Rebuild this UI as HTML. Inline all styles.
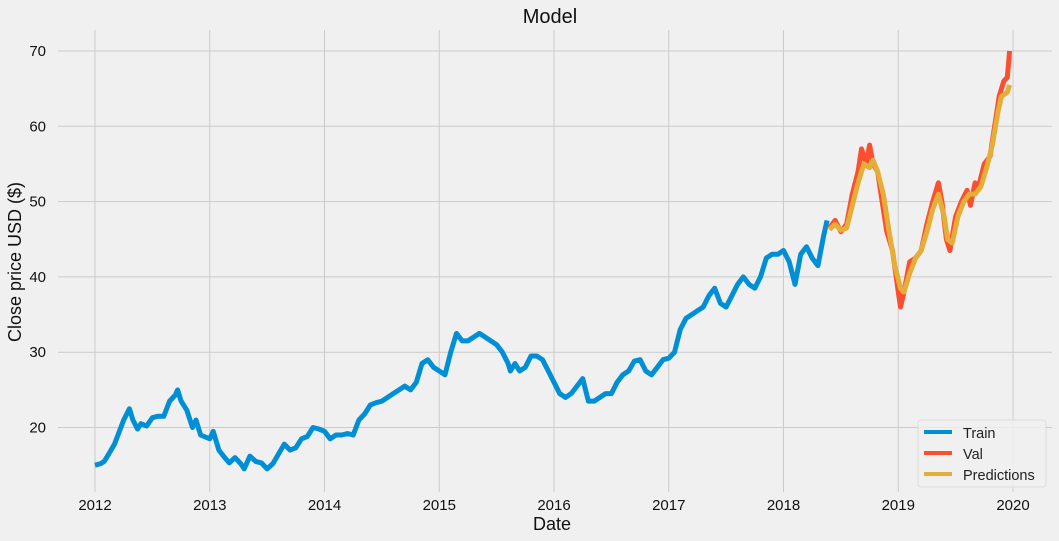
<!DOCTYPE html>
<html><head><meta charset="utf-8"><style>
body{margin:0;background:#f0f0f0;font-family:"Liberation Sans","DejaVu Sans",sans-serif}
svg{display:block}
</style></head><body>
<svg id="chart" width="1059" height="541" xmlns="http://www.w3.org/2000/svg">
<rect width="1059" height="541" fill="#f0f0f0"/>
<g id="grid"></g>
<g id="series"></g>
<g id="ticks"></g>
<text x="550" y="23" font-size="20" text-anchor="middle" fill="#111">Model</text>
<text x="552" y="530" font-size="18" text-anchor="middle" fill="#111">Date</text>
<text transform="translate(21,262) rotate(-90)" font-size="18" text-anchor="middle" fill="#111">Close price USD ($)</text>
<g>
<rect x="918" y="420" width="128" height="67" rx="3" fill="#f0f0f0" fill-opacity="0.85" stroke="#dddddd"/>
<line x1="924" y1="432" x2="952" y2="432" stroke="#008fd5" stroke-width="4"/>
<text x="963" y="438" font-size="14.5" fill="#222">Train</text>
<line x1="924" y1="453" x2="952" y2="453" stroke="#fc4f30" stroke-width="4"/>
<text x="963" y="459" font-size="14.5" fill="#222">Val</text>
<line x1="924" y1="474" x2="952" y2="474" stroke="#e5ae38" stroke-width="4"/>
<text x="963" y="480" font-size="14.5" fill="#222">Predictions</text>
</g>
</svg>
<script>
const xTicks=[2012,2013,2014,2015,2016,2017,2018,2019,2020];
const yTicks=[20,30,40,50,60,70];
const trainDates=[2012.0,2012.05,2012.08,2012.12,2012.17,2012.2,2012.25,2012.3,2012.33,2012.37,2012.4,2012.45,2012.5,2012.55,2012.6,2012.65,2012.7,2012.72,2012.75,2012.8,2012.85,2012.88,2012.92,2013.0,2013.03,2013.08,2013.12,2013.17,2013.22,2013.27,2013.3,2013.35,2013.4,2013.45,2013.5,2013.55,2013.6,2013.65,2013.7,2013.75,2013.8,2013.85,2013.9,2013.95,2014.0,2014.05,2014.1,2014.15,2014.2,2014.25,2014.3,2014.35,2014.4,2014.45,2014.5,2014.55,2014.6,2014.65,2014.7,2014.75,2014.8,2014.85,2014.9,2014.95,2015.0,2015.05,2015.1,2015.15,2015.2,2015.25,2015.3,2015.35,2015.4,2015.45,2015.5,2015.55,2015.6,2015.62,2015.66,2015.7,2015.75,2015.8,2015.85,2015.9,2015.95,2016.0,2016.05,2016.1,2016.15,2016.2,2016.25,2016.3,2016.35,2016.4,2016.45,2016.5,2016.55,2016.6,2016.65,2016.7,2016.75,2016.8,2016.85,2016.9,2016.95,2017.0,2017.05,2017.1,2017.15,2017.2,2017.25,2017.3,2017.35,2017.4,2017.45,2017.5,2017.55,2017.6,2017.65,2017.7,2017.75,2017.8,2017.85,2017.9,2017.95,2018.0,2018.05,2018.1,2018.15,2018.2,2018.25,2018.3,2018.35,2018.38];
const trainValues=[15.0,15.2,15.5,16.5,17.8,19,21,22.5,21,19.8,20.5,20.2,21.3,21.5,21.5,23.5,24.3,25.0,23.5,22.3,20,21,19,18.5,19.5,17.0,16.2,15.3,16,15.2,14.5,16.2,15.5,15.3,14.5,15.2,16.5,17.8,17,17.3,18.5,18.8,20,19.8,19.5,18.5,19,19,19.2,19,21,21.8,23,23.3,23.5,24,24.5,25,25.5,25,26,28.5,29.0,28,27.5,27,30,32.5,31.5,31.5,32,32.5,32,31.5,31,30,28.5,27.5,28.5,27.5,28.0,29.5,29.5,29,27.5,26,24.5,24,24.5,25.5,26.5,23.5,23.5,24,24.5,24.5,26,27,27.5,28.8,29.0,27.5,27,28,29.0,29.2,30,33,34.5,35.0,35.5,36.0,37.5,38.5,36.5,36.0,37.5,39,40,39,38.5,40,42.5,43,43.0,43.5,42,39,43,44,42.5,41.5,45.5,47.5];
const valDates=[2018.4,2018.45,2018.5,2018.55,2018.6,2018.65,2018.68,2018.72,2018.75,2018.78,2018.82,2018.85,2018.9,2018.95,2019.0,2019.02,2019.05,2019.1,2019.15,2019.2,2019.25,2019.3,2019.35,2019.38,2019.42,2019.45,2019.5,2019.55,2019.6,2019.63,2019.67,2019.7,2019.75,2019.8,2019.85,2019.88,2019.92,2019.95,2019.97];
const valValues=[46.5,47.5,46,47,51,54,57,55,57.5,55,54,51,46,43.5,38,36,38,42,42.5,43.5,47,50,52.5,50,45,43.5,48,50,51.5,49.5,52.5,52,55,56,61,64,66,66.5,70];
const predDates=[2018.4,2018.45,2018.5,2018.55,2018.6,2018.65,2018.7,2018.75,2018.78,2018.82,2018.87,2018.92,2018.97,2019.02,2019.05,2019.1,2019.15,2019.2,2019.25,2019.3,2019.35,2019.4,2019.43,2019.47,2019.52,2019.57,2019.62,2019.67,2019.72,2019.77,2019.82,2019.87,2019.9,2019.95,2019.97];
const predValues=[46.3,47,46.2,46.5,49.5,52.5,55,54.5,55.5,54,51,46,41.5,38.5,38,40.5,42.5,43.5,46,49,51,48,45,44.5,48,50,51,51,52,54.5,57.5,62,64,64.5,65.5];

const NS="http://www.w3.org/2000/svg";
const X0=58,X1=1052,Y0=30,Y1=492;
function xs(d){return 95+(d-2012)*114.75;}
function ys(v){return 51+(70-v)*7.53;}
const grid=document.getElementById('grid'),ticks=document.getElementById('ticks'),ser=document.getElementById('series');
xTicks.forEach(t=>{
  const l=document.createElementNS(NS,'line');
  l.setAttribute('x1',xs(t));l.setAttribute('x2',xs(t));l.setAttribute('y1',Y0);l.setAttribute('y2',Y1);
  l.setAttribute('stroke','#cbcbcb');l.setAttribute('stroke-width','1');
  
  
  grid.appendChild(l);
  const tx=document.createElementNS(NS,'text');
  tx.setAttribute('x',xs(t));tx.setAttribute('y',Y1+18);tx.setAttribute('font-size','15');tx.setAttribute('text-anchor','middle');tx.setAttribute('fill','#111');
  tx.textContent=t;
  
  
  ticks.appendChild(tx);
});
yTicks.forEach(t=>{
  const l=document.createElementNS(NS,'line');
  l.setAttribute('x1',X0);l.setAttribute('x2',X1);l.setAttribute('y1',ys(t));l.setAttribute('y2',ys(t));
  l.setAttribute('stroke','#cbcbcb');l.setAttribute('stroke-width','1');
  
  
  grid.appendChild(l);
  const tx=document.createElementNS(NS,'text');
  tx.setAttribute('x',X0-12);tx.setAttribute('y',ys(t)+5);tx.setAttribute('font-size','15');tx.setAttribute('text-anchor','end');tx.setAttribute('fill','#111');
  tx.textContent=t;
  
  
  ticks.appendChild(tx);
});
function line(d,v,color,name){
  const p=document.createElementNS(NS,'polyline');
  p.setAttribute('points',d.map((x,i)=>xs(x).toFixed(1)+','+ys(v[i]).toFixed(1)).join(' '));
  p.setAttribute('fill','none');p.setAttribute('stroke',color);p.setAttribute('stroke-width','5');p.setAttribute('stroke-linejoin','round');
  
  
  ser.appendChild(p);
}
line(trainDates,trainValues,'#008fd5','train-line');
line(valDates,valValues,'#fc4f30','val-line');
line(predDates,predValues,'#e5ae38','predictions-line');
</script>
</body></html>
